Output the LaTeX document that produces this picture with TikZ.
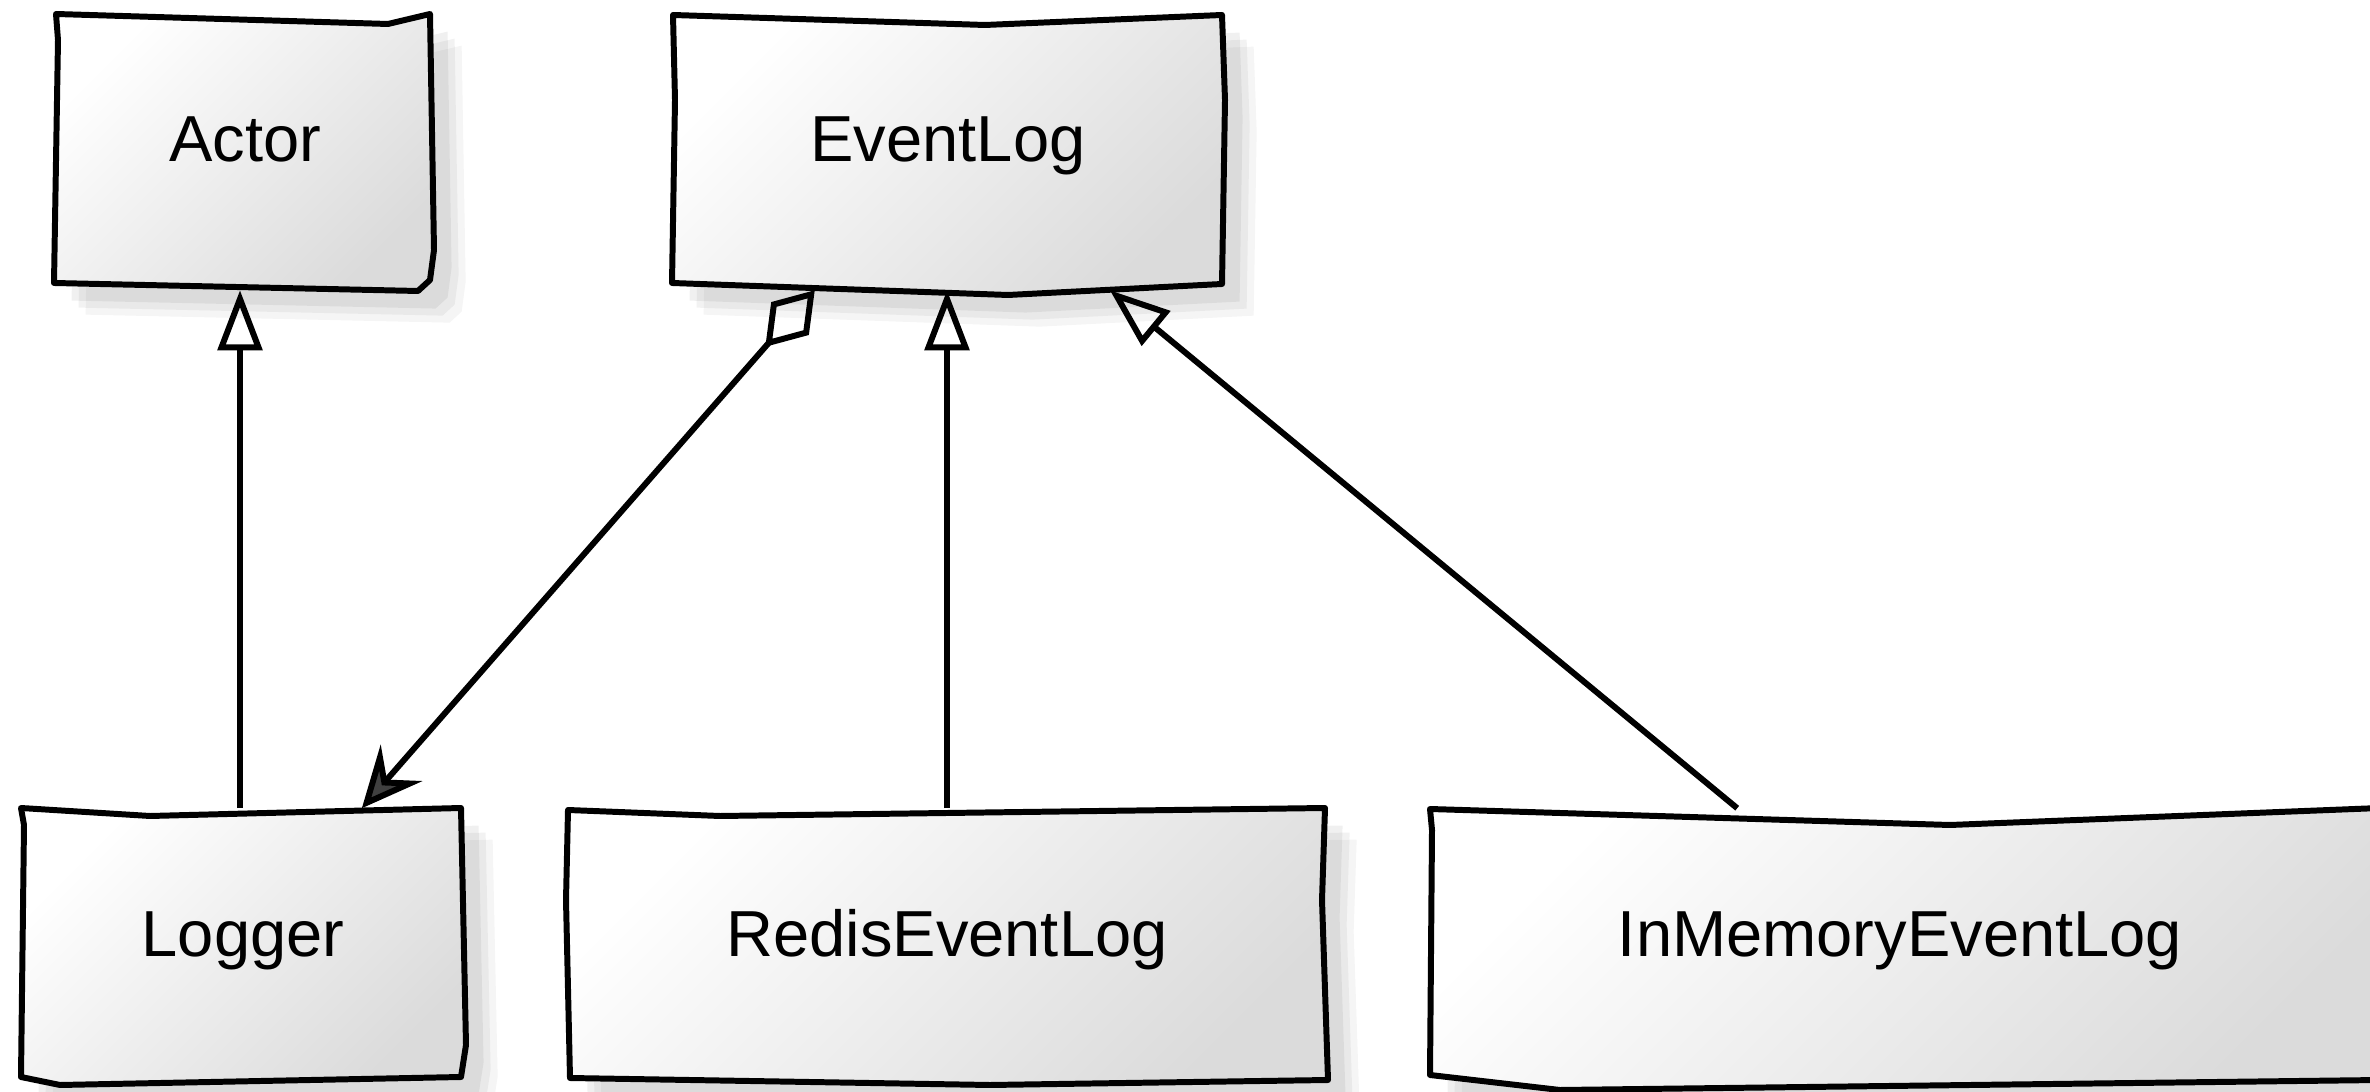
\documentclass[tikz,border=0pt]{standalone}
\usepackage{fontspec}
\setmainfont{Liberation Sans}
\usetikzlibrary{arrows.meta,shadows}
\begin{document}
\begin{tikzpicture}[x=0.01cm,y=-0.01cm,
  boxshape/.style={draw=black, line width=1.7pt, line join=round,
    top color=white, bottom color=black!14, shading angle=45,
    general shadow={shadow xshift=9pt, shadow yshift=-9pt, opacity=0.04, fill=black},
    general shadow={shadow xshift=7pt, shadow yshift=-7pt, opacity=0.05, fill=black},
    general shadow={shadow xshift=5pt, shadow yshift=-5pt, opacity=0.06, fill=black}},
  cls/.style={draw=none, fill=none, inner sep=0pt, text height=0.47cm, text depth=0.28cm,
    font=\fontsize{18.5}{22}\selectfont},
  conn/.style={line width=1.7pt, draw=black, line join=round},
  gen/.style={conn, -{Triangle[open, length=0.6cm, width=0.44cm]}},
  agg/.style={conn, {Diamond[open, length=0.75cm, width=0.5cm]}-{Stealth[length=0.6cm, width=0.55cm, inset=0.22cm, fill=black!75]}}
]
\useasboundingbox (0,0) rectangle (2370,1092);

% box outlines (hand-drawn look)
\path[boxshape] (56,14) -- (388,24) -- (430,14) -- (434,250) -- (430,280) -- (418,291) -- (54,283) -- (58,40) -- cycle;
\path[boxshape] (673,15) -- (985,25) -- (1222,15) -- (1225,100) -- (1222,284) -- (1008,295) -- (672,283) -- (675,100) -- cycle;
\path[boxshape] (21,808) -- (150,816) -- (461,808) -- (466,1045) -- (461,1077) -- (60,1085) -- (21,1077) -- (24,825) -- cycle;
\path[boxshape] (568,810) -- (720,816) -- (1325,808) -- (1322,900) -- (1328,1080) -- (990,1085) -- (570,1078) -- (566,900) -- cycle;
\path[boxshape] (1430,809) -- (1950,825) -- (2380,808) -- (2380,1080) -- (1560,1090) -- (1430,1075) -- (1432,830) -- cycle;

% class nodes
\node[cls, minimum width=3.78cm, minimum height=2.75cm] (Actor) at (245,152) {Actor};
\node[cls, minimum width=5.51cm, minimum height=2.75cm] (EventLog) at (948,152) {EventLog};
\node[cls, minimum width=4.45cm, minimum height=2.76cm] (Logger) at (243,947) {Logger};
\node[cls, minimum width=7.59cm, minimum height=2.76cm] (Redis) at (947,947) {RedisEventLog};
\node[cls, minimum width=9.40cm, minimum height=2.76cm] (InMem) at (1900,947) {InMemoryEventLog};

% connectors
\draw[gen] ([xshift=-0.03cm]Logger.north) -- ([xshift=-0.03cm]Logger.north |- Actor.south);
\draw[gen] (Redis.north) -- (Redis.north |- EventLog.south);
\draw[gen] ([xshift=3.08cm]InMem.north west) -- ([xshift=4.38cm]EventLog.south west);
\draw[agg] ([xshift=1.43cm]EventLog.south west) -- ([xshift=3.42cm]Logger.north west);
\end{tikzpicture}
\end{document}
